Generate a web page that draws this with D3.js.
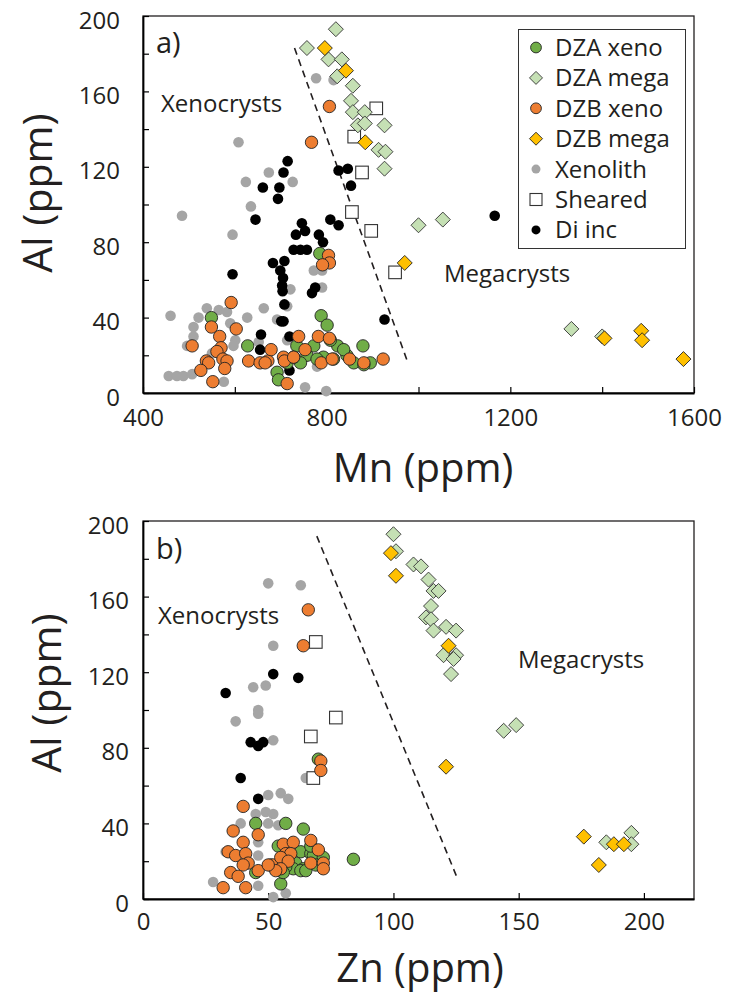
<!DOCTYPE html>
<html>
<head>
<meta charset="utf-8">
<script src="https://cdn.jsdelivr.net/npm/d3@7"></script>
<style>
  body { margin: 0; background: #fff; }
  text { font-family: "Open Sans", "Noto Sans", sans-serif; fill: #231f20; }
</style>
</head>
<body>
<script>
// panel a) : Mn (ppm) vs Al (ppm)
var aXenolith = [[777,167],[815,166],[608,133],[674,117],[624,112],[726,112],[635,99],[485,94],[595,84],[790,65],[772,65],[790,56],[721,55],[714,46],[663,45],[539,45],[565,44],[583,43],[460,41],[521,40],[627,40],[692,39],[510,35],[590,37],[601,28],[510,30],[496,25],[550,21],[456,9],[474,9],[488,9],[507,10],[576,6],[753,3],[799,1],[652,27],[597,25],[714,28],[779,14]];
var aDiInc = [[715,123],[706,117],[661,109],[697,109],[694,103],[826,118],[846,119],[853,110],[1166,94],[926,39],[645,92],[808,92],[826,89],[746,90],[753,86],[733,84],[783,84],[792,80],[728,76],[743,76],[757,76],[785,74],[683,69],[708,70],[699,65],[595,63],[705,61],[703,57],[775,56],[768,53],[704,54],[708,47],[701,38],[706,38],[657,31],[719,30],[655,23],[719,12]];
var aSheared = [[908,151],[860,136],[877,117],[855,96],[897,86],[949,64]];
var aDzaXeno = [[785,74],[549,40],[788,41],[801,36],[628,25],[879,25],[824,25],[735,25],[772,25],[844,20],[895,16],[692,11],[695,7],[757,20],[793,19],[808,28],[743,16],[714,16],[815,18],[859,16],[779,18],[728,19],[837,23],[881,15]];
var aDzbXeno = [[806,152],[767,133],[804,73],[806,69],[791,68],[592,48],[549,35],[603,34],[567,30],[570,24],[507,25],[561,22],[538,17],[543,16],[574,18],[583,17],[578,13],[526,12],[552,6],[630,17],[655,16],[672,17],[679,23],[666,16],[706,19],[708,17],[728,19],[753,23],[739,30],[782,30],[806,29],[714,5],[788,16],[812,18],[850,18],[881,16],[923,18]];
var aDzaMega = [[820,193],[757,183],[804,177],[833,177],[823,168],[857,163],[853,155],[857,149],[883,149],[868,142],[883,143],[926,142],[913,129],[928,128],[926,119],[1000,89],[1053,92],[1333,34],[1400,30]];
var aDzbMega = [[796,183],[842,171],[884,133],[970,69],[1405,29],[1485,33],[1487,28],[1577,18]];
var aDivide = [[730,183],[977,16]];

// panel b) : Zn (ppm) vs Al (ppm)
var bXenolith = [[50,167],[63,166],[52,134],[44,112],[49,113],[46,100],[37,94],[46,98],[52,84],[65,64],[50,55],[55,56],[58,53],[49,46],[52,45],[45,45],[50,40],[54,39],[39,40],[46,30],[33,25],[46,23],[28,9],[46,7],[52,1],[57,3]];
var bDiInc = [[33,109],[52,119],[62,117],[43,83],[46,81],[48,83],[39,64],[46,53]];
var bSheared = [[69,136],[77,96],[67,86],[68,64]];
var bDzaXeno = [[70,74],[45,40],[57,40],[64,37],[84,21],[55,8],[70,25],[45,14],[54,28],[63,25],[67,24],[61,19],[64,16],[68,23],[72,22],[69,18],[60,16],[57,17],[63,15],[65,15],[67,28],[56,14]];
var bDzbXeno = [[66,153],[64,134],[71,73],[71,68],[40,49],[36,36],[46,34],[40,30],[34,25],[37,23],[41,24],[42,19],[40,18],[35,14],[38,12],[32,6],[41,6],[46,15],[51,18],[52,18],[56,29],[60,30],[67,31],[57,24],[59,24],[55,22],[58,20],[55,16],[67,19],[72,19],[72,16],[70,26],[53,15],[50,18]];
var bDzaMega = [[100,193],[101,184],[108,177],[111,176],[114,169],[116,163],[118,163],[115,155],[113,149],[115,148],[116,142],[121,144],[125,142],[120,129],[125,129],[124,127],[123,119],[144,89],[149,92],[185,30],[195,35],[195,29]];
var bDzbMega = [[99,183],[101,171],[122,134],[121,70],[176,33],[182,18],[188,29],[192,29]];
var bDivide = [[69.4,192],[125.5,11]];

// legend + axis ticks
var legendNames = ["DZA xeno", "DZA mega", "DZB xeno", "DZB mega", "Xenolith", "Sheared", "Di inc"];
var alTicks = [0, 20, 40, 60, 80, 100, 120, 140, 160, 180, 200];
var mnTicks = [400, 600, 800, 1000, 1200, 1400, 1600];
var znTicks = [0, 50, 100, 150, 200];

// marker styles, same order as legend
var styles = {
  "DZA xeno": { shape: "circle", fill: "#70ad47", stroke: "#222", r: 6.2 },
  "DZA mega": { shape: "diamond", fill: "#c5e0b4", stroke: "#333", r: 7.5 },
  "DZB xeno": { shape: "circle", fill: "#ed7d31", stroke: "#222", r: 6.2 },
  "DZB mega": { shape: "diamond", fill: "#ffc000", stroke: "#222", r: 7.5 },
  "Xenolith": { shape: "circle", fill: "#a5a5a5", stroke: "none", r: 5.3 },
  "Sheared": { shape: "square", fill: "#fff", stroke: "#333", r: 6.3 },
  "Di inc": { shape: "circle", fill: "#000", stroke: "none", r: 5.3 }
};

var svg = d3.select("body").append("svg").attr("width", 738).attr("height", 998);

function diamondPath(r) {
  return "M0," + (-r) + "L" + r + ",0L0," + r + "L" + (-r) + ",0Z";
}

// draw one set of markers
function drawMarks(g, data, name, x, y) {
  var s = styles[name];
  var sel = g.append("g").selectAll("x").data(data).enter();
  if (s.shape == "circle") {
    sel.append("circle")
      .attr("cx", function (d) { return x(d[0]); })
      .attr("cy", function (d) { return y(d[1]); })
      .attr("r", s.r)
      .attr("fill", s.fill).attr("stroke", s.stroke).attr("stroke-width", 0.9);
  } else if (s.shape == "diamond") {
    sel.append("path")
      .attr("d", diamondPath(s.r))
      .attr("transform", function (d) { return "translate(" + x(d[0]) + "," + y(d[1]) + ")"; })
      .attr("fill", s.fill).attr("stroke", s.stroke).attr("stroke-width", 0.9);
  } else {
    sel.append("rect")
      .attr("x", function (d) { return x(d[0]) - s.r; })
      .attr("y", function (d) { return y(d[1]) - s.r; })
      .attr("width", s.r * 2).attr("height", s.r * 2)
      .attr("fill", s.fill).attr("stroke", s.stroke).attr("stroke-width", 1.1);
  }
}

function drawPanel(p) {
  var x = d3.scaleLinear().domain(p.xDomain).range([p.left, p.right]);
  var y = d3.scaleLinear().domain([0, 200]).range([p.bottom, p.top]);
  var g = svg.append("g");

  // frame
  g.append("rect").attr("x", p.left).attr("y", p.top)
    .attr("width", p.right - p.left).attr("height", p.bottom - p.top)
    .attr("fill", "none").attr("stroke", "#231f20").attr("stroke-width", 1.3);

  // y axis, ticks pointing inward
  var yAxis = g.append("g").attr("transform", "translate(" + p.left + ",0)")
    .call(d3.axisLeft(y).tickValues(alTicks).tickSizeInner(-6).tickSizeOuter(0).tickPadding(p.yPad)
      .tickFormat(function (d) { return d % 40 == 0 ? d : ""; }));
  var xAxis = g.append("g").attr("transform", "translate(0," + p.bottom + ")")
    .call(d3.axisBottom(x).tickValues(p.xTicks).tickSizeInner(-6).tickSizeOuter(0).tickPadding(p.xPad)
      .tickFormat(p.xFormat));
  [yAxis, xAxis].forEach(function (ax) {
    ax.select(".domain").attr("stroke", "#000").attr("stroke-width", 1.8);
    ax.selectAll(".tick line").attr("stroke", "#000").attr("stroke-width", 1.2);
    ax.selectAll(".tick text").attr("font-family", "Open Sans").attr("font-size", 24).attr("fill", "#231f20");
  });
  yAxis.selectAll(".tick text").attr("dy", "0.5em");

  // axis titles
  svg.append("text").attr("transform", "translate(" + p.yTitleX + "," + p.yTitleY + ") rotate(-90)")
    .attr("text-anchor", "middle").attr("font-size", 41).text("Al (ppm)");
  svg.append("text").attr("x", p.xTitleX).attr("y", p.xTitleY)
    .attr("text-anchor", "middle").attr("font-size", 40).text(p.xTitle);

  // dashed divide
  g.append("line")
    .attr("x1", x(p.divide[0][0])).attr("y1", y(p.divide[0][1]))
    .attr("x2", x(p.divide[1][0])).attr("y2", y(p.divide[1][1]))
    .attr("stroke", "#231f20").attr("stroke-width", 1.6).attr("stroke-dasharray", "7,5");

  // markers, back to front
  drawMarks(g, p.sets["Xenolith"], "Xenolith", x, y);
  drawMarks(g, p.sets["Di inc"], "Di inc", x, y);
  drawMarks(g, p.sets["Sheared"], "Sheared", x, y);
  drawMarks(g, p.sets["DZA xeno"], "DZA xeno", x, y);
  drawMarks(g, p.sets["DZB xeno"], "DZB xeno", x, y);
  drawMarks(g, p.sets["DZA mega"], "DZA mega", x, y);
  drawMarks(g, p.sets["DZB mega"], "DZB mega", x, y);

  // labels
  g.append("text").attr("x", p.left + 13).attr("y", p.tagY).attr("font-size", 29).text(p.tag);
  g.append("text").attr("x", p.xenoX).attr("y", p.xenoY).attr("font-size", 24).text("Xenocrysts");
  g.append("text").attr("x", p.megaX).attr("y", p.megaY).attr("font-size", 24).text("Megacrysts");
}

drawPanel({
  left: 143, right: 694, top: 16, bottom: 393,
  xDomain: [400, 1600], xTicks: mnTicks,
  xFormat: function (d) { return d % 400 == 0 ? d : ""; },
  yPad: 23, xPad: 16,
  yTitleX: 52, yTitleY: 193, xTitleX: 423, xTitleY: 482, xTitle: "Mn (ppm)",
  divide: aDivide, tag: "a)", tagY: 53,
  xenoX: 161, xenoY: 112, megaX: 444, megaY: 282,
  sets: { "Xenolith": aXenolith, "Di inc": aDiInc, "Sheared": aSheared, "DZA xeno": aDzaXeno,
    "DZB xeno": aDzbXeno, "DZA mega": aDzaMega, "DZB mega": aDzbMega }
});

drawPanel({
  left: 143, right: 694, top: 521, bottom: 899,
  xDomain: [0, 220], xTicks: znTicks,
  xFormat: function (d) { return d; },
  yPad: 14, xPad: 14,
  yTitleX: 61, yTitleY: 693, xTitleX: 420, xTitleY: 982, xTitle: "Zn (ppm)",
  divide: bDivide, tag: "b)", tagY: 559,
  xenoX: 158, xenoY: 624, megaX: 518, megaY: 668,
  sets: { "Xenolith": bXenolith, "Di inc": bDiInc, "Sheared": bSheared, "DZA xeno": bDzaXeno,
    "DZB xeno": bDzbXeno, "DZA mega": bDzaMega, "DZB mega": bDzbMega }
});

// legend (panel a)
var leg = svg.append("g");
leg.append("rect").attr("x", 518.5).attr("y", 29.5).attr("width", 167).attr("height", 219)
  .attr("fill", "#fff").attr("stroke", "#333").attr("stroke-width", 1);
legendNames.forEach(function (name, i) {
  var cy = 47.5 + i * 30.4;
  var s = styles[name];
  var item = leg.append("g").attr("transform", "translate(536," + cy + ")");
  if (s.shape == "circle") {
    item.append("circle").attr("r", s.r - 0.8).attr("fill", s.fill).attr("stroke", s.stroke).attr("stroke-width", 0.9);
  } else if (s.shape == "diamond") {
    item.append("path").attr("d", diamondPath(6.5)).attr("fill", s.fill).attr("stroke", s.stroke).attr("stroke-width", 0.9);
  } else {
    item.append("rect").attr("x", -6).attr("y", -6).attr("width", 12).attr("height", 12)
      .attr("fill", s.fill).attr("stroke", s.stroke).attr("stroke-width", 1.1);
  }
  leg.append("text").attr("x", 555).attr("y", cy + 8.5).attr("font-size", 24).text(name);
});
</script>
</body>
</html>
